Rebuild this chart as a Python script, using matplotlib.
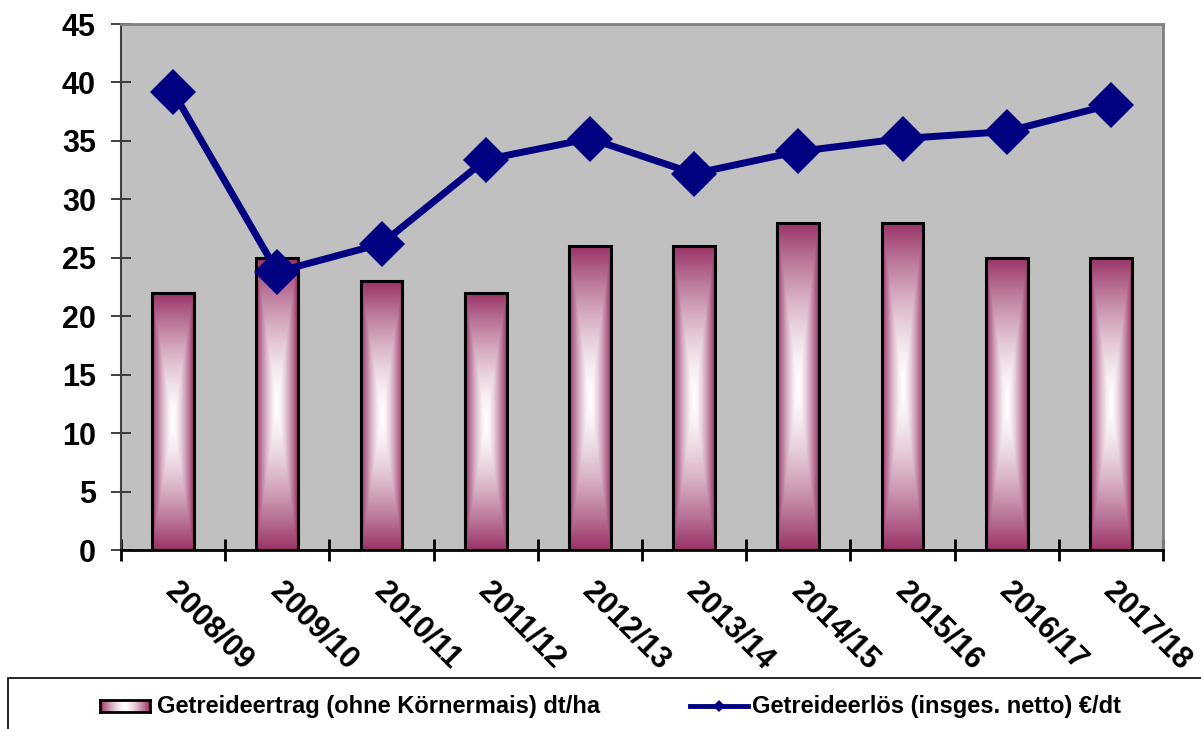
import numpy as np
import matplotlib
matplotlib.use("Agg")
import matplotlib.pyplot as plt
from matplotlib.colors import to_rgb
from matplotlib.patches import Rectangle
from matplotlib.lines import Line2D
from matplotlib.transforms import ScaledTranslation

# --- data -------------------------------------------------------------
seasons = ["2008/09", "2009/10", "2010/11", "2011/12", "2012/13",
           "2013/14", "2014/15", "2015/16", "2016/17", "2017/18"]
ertrag = [22, 25, 23, 22, 26, 26, 28, 28, 25, 25]           # dt/ha
erloes = [39.2, 23.8, 26.2, 33.4, 35.2, 32.2, 34.1, 35.2, 35.8, 38.1]  # €/dt
y_ticks = [0, 5, 10, 15, 20, 25, 30, 35, 40, 45]

label_bar = "Getreideertrag (ohne Körnermais) dt/ha"
label_line = "Getreideerlös (insges. netto) €/dt"

# --- style ------------------------------------------------------------
plt.rcParams["font.family"] = ["Liberation Sans", "DejaVu Sans"]
PLUM = np.array(to_rgb("#993366"))
NAVY = "#000080"
W, H, DPI = 1201, 729, 100


def rect_gradient(nx, ny, horizontal_only=False, gamma=1.5):
    """Rectangular 'from centre' gradient: white in the middle, plum at the rim."""
    u = np.abs(np.linspace(-1, 1, nx))[None, :]
    v = np.abs(np.linspace(-1, 1, ny))[:, None]
    t = np.broadcast_to(u, (ny, nx)) if horizontal_only else np.maximum(u, v)
    t = (t ** gamma)[..., None]
    return (1 - t) * np.ones(3) + t * PLUM


fig = plt.figure(figsize=(W / DPI, H / DPI), dpi=DPI)
ax = fig.add_axes([121 / W, 1 - 550 / H, (1163 - 121) / W, (550 - 24) / H])
ax.set_facecolor("#c0c0c0")

x = np.arange(len(seasons))
bars = ax.bar(x, ertrag, width=0.4, facecolor="none", edgecolor="black",
              linewidth=2.2, zorder=3)
grad = rect_gradient(60, 300)
for b in bars:
    x0, w, h = b.get_x(), b.get_width(), b.get_height()
    im = ax.imshow(grad, extent=(x0, x0 + w, 0, h), aspect="auto",
                   interpolation="bilinear", zorder=2)
    im.set_clip_path(b)

ax.plot(x, erloes, color=NAVY, linewidth=5, marker="D", markersize=23,
        markeredgewidth=0, zorder=4, clip_on=False)

ax.set_xlim(-0.5, len(seasons) - 0.5)
ax.set_ylim(0, 45)

# y axis
ax.set_yticks(y_ticks)
ax.set_yticklabels([str(v) for v in y_ticks], fontsize=22, fontweight="bold")
ax.tick_params(axis="y", direction="inout", length=14, width=1.3,
               color="#303030", pad=11)

# x axis: boundary ticks + rotated season labels
ax.set_xticks(x)
ax.set_xticklabels(seasons, fontsize=22, fontweight="bold", rotation=-45,
                   ha="left", va="top", rotation_mode="anchor")
ax.tick_params(axis="x", which="major", length=0, pad=19)
ax.set_xticks(np.arange(-0.5, len(seasons), 1), minor=True)
ax.tick_params(axis="x", which="minor", direction="inout", length=16,
               width=2, color="black")
shift = ScaledTranslation(8 / DPI, 0, fig.dpi_scale_trans)
for lab in ax.get_xticklabels():
    lab.set_transform(lab.get_transform() + shift)

for side in ("top", "right"):
    ax.spines[side].set_color("#808080")
    ax.spines[side].set_linewidth(2)
ax.spines["left"].set_color("#404040")
ax.spines["left"].set_linewidth(1.5)
ax.spines["bottom"].set_color("black")
ax.spines["bottom"].set_linewidth(2)

# --- legend box along the bottom edge ----------------------------------
fig.patches.append(Rectangle((8 / W, -0.05), 1.2, (729 - 678) / H + 0.05,
                             transform=fig.transFigure, facecolor="white",
                             edgecolor="black", linewidth=1.2, zorder=0.5))
ly = 1 - 706 / H

hax = fig.add_axes([100 / W, 1 - 712 / H, 50 / W, 12 / H])
hax.set_zorder(5)
hax.imshow(rect_gradient(50, 12, horizontal_only=True), aspect="auto",
           interpolation="bilinear", extent=(0, 1, 0, 1))
hax.set_xticks([])
hax.set_yticks([])
for s in hax.spines.values():
    s.set_linewidth(2)
    s.set_color("black")
fig.text(157 / W, ly, label_bar, fontsize=17, fontweight="bold",
         ha="left", va="center")

fig.add_artist(Line2D([690 / W, 748 / W], [ly, ly], transform=fig.transFigure,
                      color=NAVY, linewidth=3.5))
fig.add_artist(Line2D([719 / W], [ly], transform=fig.transFigure,
                      color=NAVY, marker="D", markersize=6,
                      markeredgewidth=0))
fig.text(752 / W, ly, label_line, fontsize=17, fontweight="bold",
         ha="left", va="center")

fig.savefig("out.png", dpi=DPI)
